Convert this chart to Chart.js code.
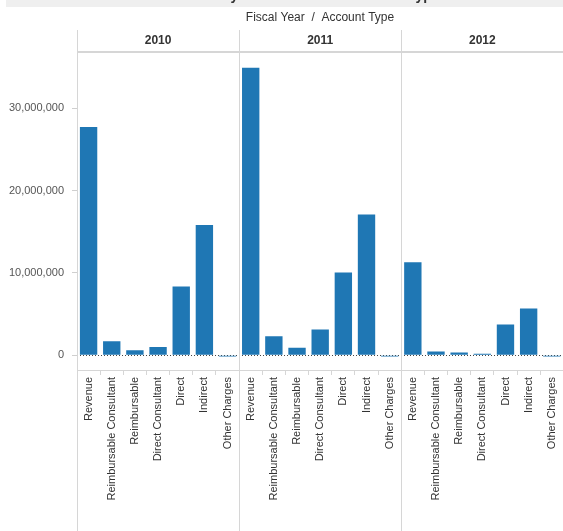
<!DOCTYPE html>
<html>
<head>
<meta charset="utf-8">
<script src="https://cdn.jsdelivr.net/npm/chart.js@4/dist/chart.umd.min.js"></script>
<style>
    html, body { margin: 0; padding: 0; background: #fff; overflow: hidden; }
    #wrap { width: 567px; height: 531px; }
</style>
</head>
<body>
<div id="wrap"><canvas id="amountChart"></canvas></div>
<script>
// Account types shown inside each fiscal year pane
const categories = ['Revenue', 'Reimbursable Consultant', 'Reimbursable', 'Direct Consultant', 'Direct', 'Indirect', 'Other Charges'];
const years = ['2010', '2011', '2012'];

// Amounts per fiscal year, same order as categories
const amount2010 = [27700000, 1700000, 600000, 1000000, 8340000, 15800000, -150000];
const amount2011 = [34900000, 2300000, 890000, 3120000, 10040000, 17100000, -150000];
const amount2012 = [11300000, 450000, 330000, 160000, 3730000, 5670000, -150000];

const yTicks = [0, 10000000, 20000000, 30000000];

const FONT = "'Liberation Sans', Arial, sans-serif";
const LINE = '#d6d6d6';

// flatten the three panes into one category axis
const labels = [];
const values = [];
[amount2010, amount2011, amount2012].forEach(arr => {
    arr.forEach((v, i) => {
        labels.push(categories[i]);
        values.push(v);
    });
});

// Headers, pane dividers and the dotted zero line
const paneDecor = {
    id: 'paneDecor',
    beforeDraw(chart) {
        const c = chart.ctx;
        c.save();
        c.fillStyle = '#efefef';
        c.fillRect(6, 0, chart.width, 7);
        // clipped sheet title, only the descenders show
        c.beginPath();
        c.rect(0, 0, chart.width, 7);
        c.clip();
        c.fillStyle = '#333';
        c.font = 'bold 14px ' + FONT;
        c.textBaseline = 'alphabetic';
        c.textAlign = 'left';
        const pre = 'Amount ';
        c.fillText(pre + 'by Fiscal Year and Account Type', 222 - c.measureText(pre).width, 0);
        c.restore();
    },
    beforeDatasetsDraw(chart) {
        const c = chart.ctx;
        const area = chart.chartArea;
        const zy = Math.round(chart.scales.y.getPixelForValue(0)) + 0.5;
        c.save();
        c.strokeStyle = '#444';
        c.lineWidth = 1;
        c.setLineDash([1, 2]);
        c.beginPath();
        c.moveTo(area.left, zy);
        c.lineTo(area.right, zy);
        c.stroke();
        c.restore();
    },
    afterDraw(chart) {
        const c = chart.ctx;
        const area = chart.chartArea;
        const x = chart.scales.x;
        const n = categories.length;
        c.save();

        c.fillStyle = '#333';
        c.font = '12px ' + FONT;
        c.textAlign = 'center';
        c.textBaseline = 'middle';
        const mid = (area.left + 563) / 2;
        c.fillText('Fiscal Year  /  Account Type', mid, 18);

        // pane edges
        const step = x.getPixelForValue(1) - x.getPixelForValue(0);
        const edges = years.map((yr, p) => x.getPixelForValue(p * n) - step / 2);
        c.strokeStyle = LINE;
        c.lineWidth = 1;
        edges.forEach(e => {
            c.beginPath();
            c.moveTo(Math.round(e) + 0.5, 30);
            c.lineTo(Math.round(e) + 0.5, chart.height);
            c.stroke();
        });

        // header bottom rule
        c.lineWidth = 2;
        c.beginPath();
        c.moveTo(area.left, area.top - 1);
        c.lineTo(chart.width, area.top - 1);
        c.stroke();

        c.fillStyle = '#333';
        c.font = 'bold 12px ' + FONT;
        years.forEach((yr, p) => {
            c.fillText(yr, edges[p] + step * n / 2, 41);
        });
        c.restore();
    }
};

const ctx = document.getElementById('amountChart').getContext('2d');
const amountChart = new Chart(ctx, {
    type: 'bar',
    data: {
        labels: labels,
        datasets: [{
            label: 'Amount',
            data: values,
            backgroundColor: '#1f77b4',
            borderWidth: 0,
            categoryPercentage: 1,
            barPercentage: 0.75
        }]
    },
    options: {
        responsive: true,
        maintainAspectRatio: false,
        animation: false,
        layout: { padding: { top: 53, left: 0, right: 0, bottom: 0 } },
        plugins: {
            legend: { display: false },
            tooltip: { enabled: false }
        },
        scales: {
            x: {
                offset: true,
                afterFit: scale => { scale.height = 161; },
                grid: {
                    drawOnChartArea: false,
                    drawTicks: true,
                    tickLength: 5,
                    color: LINE
                },
                border: { display: true, color: LINE },
                ticks: {
                    autoSkip: false,
                    minRotation: 90,
                    maxRotation: 90,
                    padding: 2,
                    color: '#333',
                    font: { family: FONT, size: 11 }
                }
            },
            y: {
                min: -1800000,
                max: 36700000,
                afterFit: scale => { scale.width = 77; },
                afterBuildTicks: scale => {
                    scale.ticks = yTicks.map(v => ({ value: v }));
                },
                grid: {
                    drawOnChartArea: false,
                    drawTicks: true,
                    tickLength: 5,
                    color: '#cfcfcf'
                },
                border: { display: true, color: LINE },
                ticks: {
                    padding: 8,
                    color: '#555',
                    font: { family: FONT, size: 11 },
                    callback: v => Number(v).toLocaleString('en-US')
                }
            }
        }
    },
    plugins: [paneDecor]
});
</script>
</body>
</html>
